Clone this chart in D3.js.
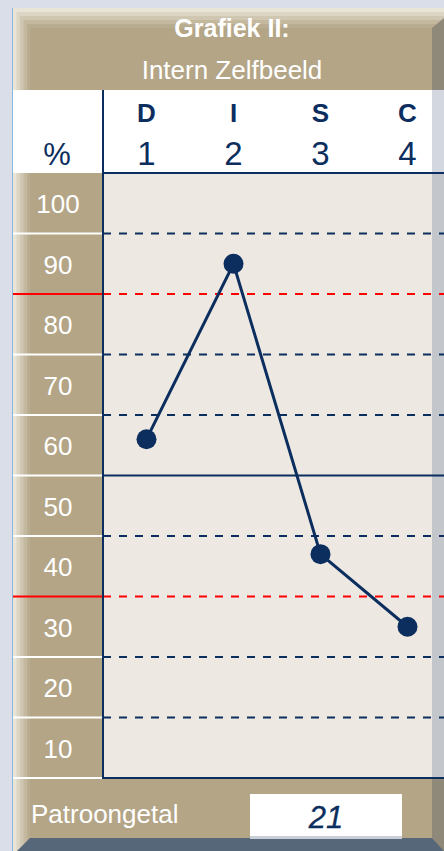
<!DOCTYPE html>
<meta charset="utf-8">
<style>
body { margin: 0; background: #d9dee8; }
svg { display: block; font-family: "Liberation Sans", Arial, sans-serif; }
</style>
<script src="https://d3js.org/d3.v7.min.js"></script>
<body>
<svg id="chart" width="444" height="851"></svg>
<script>
var letters = ["D", "I", "S", "C"];
var numbers = ["1", "2", "3", "4"];
var values = [61, 90, 42, 30];
var rowLabels = [100, 90, 80, 70, 60, 50, 40, 30, 20, 10];
var dashedLines = [95, 75, 65, 45, 25, 15];
var redLines = [85, 35];
var midLine = [55];
var patternNumber = "21";

var navy = "#0b2e5e", beige = "#b3a586", plotBg = "#ede9e2";

var svg = d3.select("#chart");

var x = d3.scaleBand().domain(numbers).range([103, 451]);
var y = d3.scaleLinear().domain([5, 105]).range([778, 173]);

// frame + bevels
svg.append("rect").attr("x", 12).attr("y", 8).attr("width", 432).attr("height", 843).attr("fill", "#e6e0d2");
var bevel = ["#e9e4d8", "#ddd5c4", "#d0c7b3", "#c4b99f", "#b9ad91"];
bevel.forEach(function(c, i) {
  svg.append("rect").attr("x", 13 + i * 3.5).attr("y", 8 + i * 4).attr("width", 431 - i * 3.5).attr("height", 843 - i * 4).attr("fill", c);
});
svg.append("rect").attr("x", 30).attr("y", 28).attr("width", 402).attr("height", 810).attr("fill", beige);
// right bevel
svg.append("polygon").attr("points", "432,28 444,18 444,851 432,838").attr("fill", "#8f897a");
svg.append("rect").attr("x", 432).attr("y", 90).attr("width", 12).attr("height", 688).attr("fill", "#c3c7cc");
// bottom bevel
svg.append("polygon").attr("points", "30,838 432,838 444,851 17,851").attr("fill", "#56677a");
svg.append("line").attr("x1", 12.5).attr("x2", 12.5).attr("y1", 8).attr("y2", 851).attr("stroke", "#8cb6da").attr("stroke-width", 1);

// title
svg.append("text").attr("x", 232).attr("y", 37).attr("text-anchor", "middle").attr("fill", "#fff")
  .attr("font-size", 25).attr("font-weight", "bold").text("Grafiek II:");
svg.append("text").attr("x", 232).attr("y", 79).attr("text-anchor", "middle").attr("fill", "#fff")
  .attr("font-size", 26).text("Intern Zelfbeeld");

// header row
svg.append("rect").attr("x", 13).attr("y", 90).attr("width", 419).attr("height", 83).attr("fill", "#fff");
svg.append("rect").attr("x", 432).attr("y", 90).attr("width", 12).attr("height", 83).attr("fill", "#d3d8e0");
svg.selectAll(".letter").data(letters).join("text")
  .attr("x", function(d, i) { return x(numbers[i]) + x.bandwidth() / 2; })
  .attr("y", 122).attr("text-anchor", "middle").attr("fill", navy)
  .attr("font-size", 26).attr("font-weight", "bold").text(function(d) { return d; });
svg.selectAll(".num").data(numbers).join("text")
  .attr("x", function(d) { return x(d) + x.bandwidth() / 2; })
  .attr("y", 165).attr("text-anchor", "middle").attr("fill", navy)
  .attr("font-size", 33).text(function(d) { return d; });
svg.append("text").attr("x", 57).attr("y", 165).attr("text-anchor", "middle").attr("fill", navy)
  .attr("font-size", 31).text("%");

// plot area
svg.append("rect").attr("x", 103).attr("y", 173).attr("width", 329).attr("height", 605).attr("fill", plotBg);

// row separators in the left column
svg.selectAll(".sep").data(d3.range(15, 100, 10)).join("line")
  .attr("x1", 13).attr("x2", 103)
  .attr("y1", function(d) { return y(d); }).attr("y2", function(d) { return y(d); })
  .attr("stroke", function(d) { return redLines.indexOf(d) >= 0 ? "#ff0000" : "#fff"; })
  .attr("stroke-width", 2);
svg.append("line").attr("x1", 13).attr("x2", 103).attr("y1", 778).attr("y2", 778).attr("stroke", "#fff").attr("stroke-width", 2);

// row labels
svg.selectAll(".rl").data(rowLabels).join("text")
  .attr("x", 58).attr("y", function(d) { return y(d) + 10; })
  .attr("text-anchor", "middle").attr("fill", "#fff").attr("font-size", 26)
  .text(function(d) { return d; });

// grid lines
svg.selectAll(".dash").data(dashedLines).join("line")
  .attr("x1", 103).attr("x2", 444)
  .attr("y1", function(d) { return y(d); }).attr("y2", function(d) { return y(d); })
  .attr("stroke", navy).attr("stroke-width", 2).attr("stroke-dasharray", "8,8");
svg.selectAll(".red").data(redLines).join("line")
  .attr("x1", 103).attr("x2", 444)
  .attr("y1", function(d) { return y(d); }).attr("y2", function(d) { return y(d); })
  .attr("stroke", "#ff0000").attr("stroke-width", 2).attr("stroke-dasharray", "8,8");
svg.selectAll(".mid").data(midLine).join("line")
  .attr("x1", 103).attr("x2", 444)
  .attr("y1", function(d) { return y(d); }).attr("y2", function(d) { return y(d); })
  .attr("stroke", navy).attr("stroke-width", 2);

// frame lines of plot
svg.append("line").attr("x1", 103).attr("x2", 103).attr("y1", 90).attr("y2", 779).attr("stroke", navy).attr("stroke-width", 2);
svg.append("line").attr("x1", 103).attr("x2", 444).attr("y1", 173).attr("y2", 173).attr("stroke", navy).attr("stroke-width", 2);
svg.append("line").attr("x1", 103).attr("x2", 444).attr("y1", 778).attr("y2", 778).attr("stroke", navy).attr("stroke-width", 2);

// data line
var pts = values.map(function(v, i) { return [x(numbers[i]) + x.bandwidth() / 2, y(v)]; });
svg.append("path").attr("d", d3.line()(pts)).attr("fill", "none").attr("stroke", navy).attr("stroke-width", 3);
svg.selectAll(".dot").data(pts).join("circle")
  .attr("cx", function(d) { return d[0]; }).attr("cy", function(d) { return d[1]; })
  .attr("r", 10).attr("fill", navy);

// footer
svg.append("text").attr("x", 31).attr("y", 823).attr("fill", "#fff").attr("font-size", 26).text("Patroongetal");
svg.append("rect").attr("x", 250).attr("y", 794).attr("width", 152).attr("height", 44).attr("fill", "#fff");
svg.append("rect").attr("x", 250).attr("y", 836).attr("width", 152).attr("height", 3).attr("fill", "#c9ced8");
svg.append("text").attr("x", 326).attr("y", 828).attr("text-anchor", "middle").attr("fill", navy)
  .attr("font-size", 31).attr("font-style", "italic").attr("stroke", navy).attr("stroke-width", 0.3)
  .text(patternNumber);
</script>
</body>
